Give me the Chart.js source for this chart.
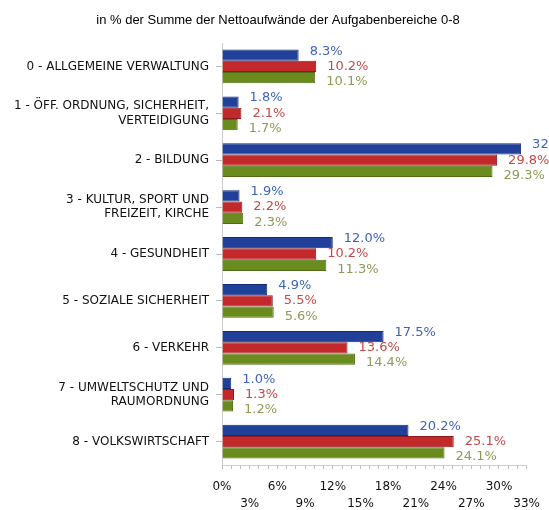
<!DOCTYPE html>
<html>
<head>
<meta charset="utf-8">
<script src="https://cdn.jsdelivr.net/npm/chart.js@4"></script>
<style>
  html, body { margin: 0; padding: 0; background: #fff; }
  #wrap { width: 549px; height: 510px; }
</style>
</head>
<body>
<div id="wrap"><canvas id="chart" width="549" height="510"></canvas></div>
<script>
const categories = [
    '0 - ALLGEMEINE VERWALTUNG',
    ['1 - ÖFF. ORDNUNG, SICHERHEIT,', 'VERTEIDIGUNG'],
    '2 - BILDUNG',
    ['3 - KULTUR, SPORT UND', 'FREIZEIT, KIRCHE'],
    '4 - GESUNDHEIT',
    '5 - SOZIALE SICHERHEIT',
    '6 - VERKEHR',
    ['7 - UMWELTSCHUTZ UND', 'RAUMORDNUNG'],
    '8 - VOLKSWIRTSCHAFT'
];
const seriesBlue = [8.3, 1.8, 32.4, 1.9, 12.0, 4.9, 17.5, 1.0, 20.2];
const seriesRed = [10.2, 2.1, 29.8, 2.2, 10.2, 5.5, 13.6, 1.3, 25.1];
const seriesGreen = [10.1, 1.7, 29.3, 2.3, 11.3, 5.6, 14.4, 1.2, 24.1];
const tickMax = 33;

const titleText = 'in % der Summe der Nettoaufwände der Aufgabenbereiche 0-8';
const labelColors = ['#3f63b8', '#c24a4a', '#8f9a55'];

function fmt(v) {
    return v.toFixed(1) + '%';
}

// Titel etwas rechts von der Mitte, wie im Original
const titlePlugin = {
    id: 'titlePlugin',
    afterDraw(chart) {
        const ctx = chart.ctx;
        ctx.save();
        ctx.font = '13px "Liberation Sans"';
        ctx.fillStyle = '#000';
        ctx.textAlign = 'center';
        ctx.textBaseline = 'middle';
        ctx.fillText(titleText, 278, 20);
        ctx.restore();
    }
};

// Werte rechts neben die Balken schreiben
const valueLabels = {
    id: 'valueLabels',
    afterDatasetsDraw(chart) {
        const ctx = chart.ctx;
        ctx.save();
        ctx.font = '13px "DejaVu Sans"';
        ctx.textBaseline = 'middle';
        ctx.textAlign = 'left';
        chart.data.datasets.forEach((ds, i) => {
            const meta = chart.getDatasetMeta(i);
            ctx.fillStyle = labelColors[i];
            meta.data.forEach((bar, j) => {
                ctx.fillText(fmt(ds.data[j]), bar.x + 11, bar.y + (i - 1) * 4);
            });
        });
        ctx.restore();
    }
};

new Chart(document.getElementById('chart'), {
    type: 'bar',
    data: {
        labels: categories,
        datasets: [
            { label: 'A', data: seriesBlue, backgroundColor: '#21409a', borderColor: '#122c74', borderWidth: 1 },
            { label: 'B', data: seriesRed, backgroundColor: '#c3282b', borderColor: '#8c1a1c', borderWidth: 1 },
            { label: 'C', data: seriesGreen, backgroundColor: '#6a8c1f', borderColor: '#4e6a12', borderWidth: 1 }
        ]
    },
    options: {
        indexAxis: 'y',
        responsive: false,
        animation: false,
        layout: { padding: { top: 43, right: 18, left: 0 } },
        datasets: { bar: { categoryPercentage: 0.72, barPercentage: 1.0 } },
        plugins: {
            legend: { display: false },
            tooltip: { enabled: false },
            title: { display: false }
        },
        scales: {
            x: {
                min: 0,
                max: tickMax,
                grid: { drawOnChartArea: false, tickLength: 4, color: '#bbb' },
                border: { color: '#ccc' },
                afterFit: s => { s.height = 45; },
                afterBuildTicks: s => {
                    s.ticks = [];
                    for (let v = 0; v <= tickMax; v++) s.ticks.push({ value: v });
                },
                ticks: {
                    autoSkip: false,
                    maxRotation: 0,
                    color: '#111',
                    padding: 9,
                    font: { family: '"DejaVu Sans"', size: 12, lineHeight: 1.45 },
                    callback: v => {
                        if (v % 3 !== 0) return '';
                        return (v / 3) % 2 === 0 ? [v + '%', ''] : ['', v + '%'];
                    }
                }
            },
            y: {
                grid: { drawOnChartArea: false, offset: false, tickLength: 6, color: '#bbb' },
                border: { color: '#ccc' },
                afterFit: s => { s.width = 222; },
                ticks: {
                    color: '#111',
                    padding: 7,
                    font: { family: '"DejaVu Sans"', size: 12, lineHeight: 1.2 }
                }
            }
        }
    },
    plugins: [valueLabels, titlePlugin]
});
</script>
</body>
</html>
